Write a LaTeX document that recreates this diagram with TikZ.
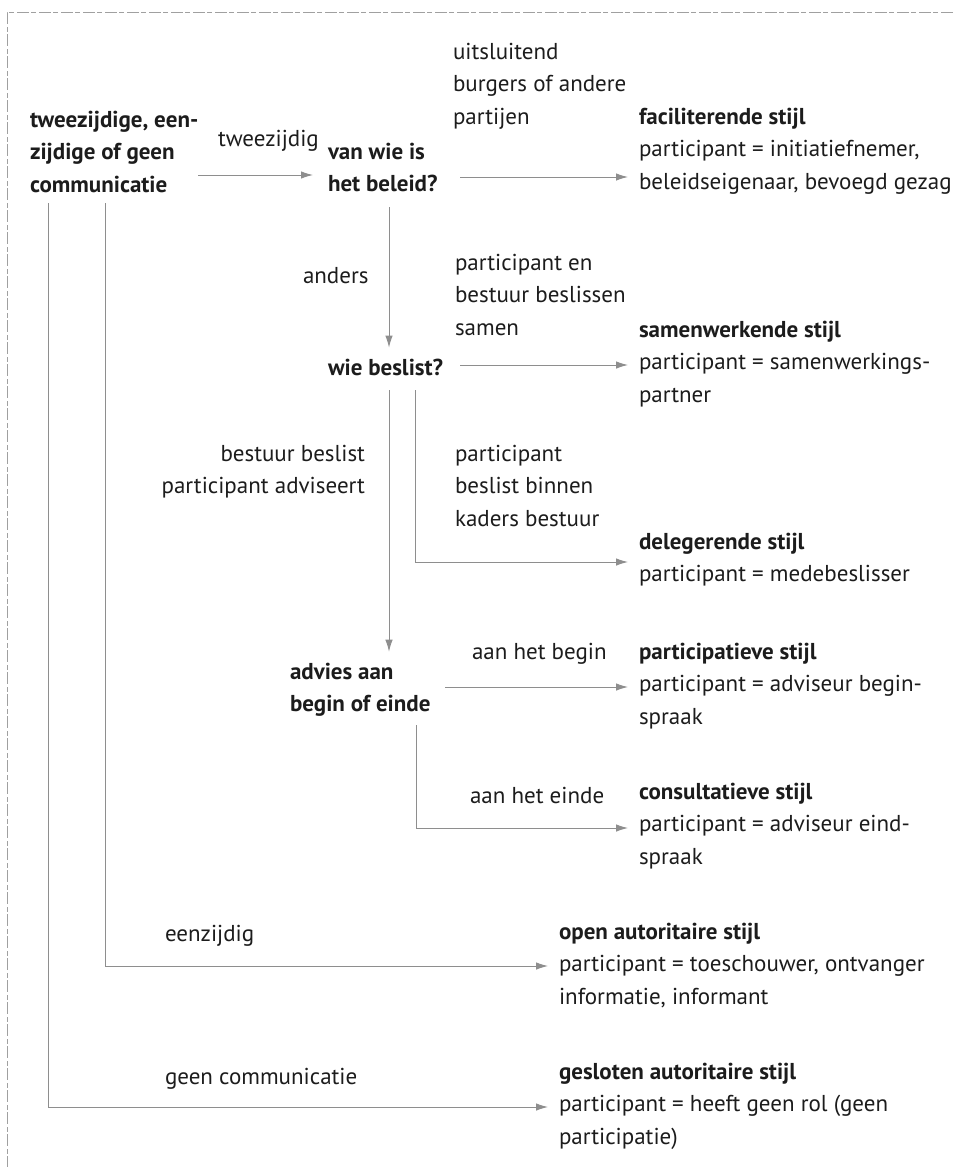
\documentclass[tikz,border=0pt]{standalone}
\usepackage{fontspec}
\setmainfont{PT Sans}
\usetikzlibrary{arrows.meta}
\definecolor{linegray}{HTML}{8E8E8E}
\definecolor{bordergray}{HTML}{A0A0A0}
\definecolor{ink}{HTML}{1C1C1C}
\tikzset{
  txt/.style={font=\fontsize{23}{32.5}\selectfont, text=ink, inner sep=0pt, outer sep=0pt, align=left, anchor=base west},
  btxt/.style={txt, font=\fontsize{23}{32.5}\selectfont\bfseries},
  arr/.style={draw=linegray, line width=0.9pt, -{Latex[length=12pt,width=7.5pt]}, shorten >=11pt},
  frame/.style={draw=bordergray, line width=0.8pt, dash pattern=on 12pt off 3pt on 5pt off 2pt},
}
\begin{document}
\begin{tikzpicture}[x=1pt,y=-1pt]
\useasboundingbox (0,0) rectangle (953,1167);
\draw[frame] (953,12) -- (7,12) -- (7,1167);

% nodes (anchored on the baseline of their last line)
\node[btxt] (src) at (30,192) {tweezijdige, een-\\zijdige of geen\\communicatie};
\node[txt]  (l1)  at (218,146) {tweezijdig};
\node[btxt] (q1)  at (328,191.5) {van wie is\\het beleid?};
\node[txt]  (l2)  at (453,124) {uitsluitend\\burgers of andere\\partijen};
\node[txt]  (fac) at (639,189) {\textbf{faciliterende stijl}\\participant = initiatiefnemer,\\beleidseigenaar, bevoegd gezag};
\node[txt]  (l3)  at (303,283) {anders};
\node[txt]  (l4)  at (455,335) {participant en\\bestuur beslissen\\samen};
\node[txt]  (sam) at (639,402) {\textbf{samenwerkende stijl}\\participant = samenwerkings-\\partner};
\node[btxt] (q2)  at (328,375) {wie beslist?};
\node[txt, align=right, anchor=base east] (l5) at (365,493.5) {bestuur beslist\\participant adviseert};
\node[txt]  (l6)  at (455,526) {participant\\beslist binnen\\kaders bestuur};
\node[txt]  (del) at (639,581.5) {\textbf{delegerende stijl}\\participant = medebeslisser};
\node[btxt] (q3)  at (290,711.5) {advies aan\\begin of einde};
\node[txt]  (l7)  at (472,659) {aan het begin};
\node[txt]  (par) at (639,724) {\textbf{participatieve stijl}\\participant = adviseur begin-\\spraak};
\node[txt]  (l8)  at (470,803) {aan het einde};
\node[txt]  (con) at (639,864) {\textbf{consultatieve stijl}\\participant = adviseur eind-\\spraak};
\node[txt]  (l9)  at (165,941) {eenzijdig};
\node[txt]  (opn) at (559,1004) {\textbf{open autoritaire stijl}\\participant = toeschouwer, ontvanger\\informatie, informant};
\node[txt]  (l10) at (165,1084) {geen communicatie};
\node[txt]  (ges) at (559,1144) {\textbf{gesloten autoritaire stijl}\\participant = heeft geen rol (geen\\participatie)};

% connector start / bend points
\coordinate (a1) at (198,175);
\coordinate (a2) at (460,177);
\coordinate (v1) at (389,207);
\coordinate (a3) at (460,365);
\coordinate (v2) at (389,390);
\coordinate (v3) at (415,390);
\coordinate (v3b) at (415,562);
\coordinate (a4) at (445,687);
\coordinate (v4) at (416,725);
\coordinate (v4b) at (416,828);
\coordinate (v5) at (105,203);
\coordinate (v5b) at (105,966);
\coordinate (v6) at (48,203);
\coordinate (v6b) at (48,1107);

\draw[arr, shorten >=15pt] (a1) -- (a1 -| q1.west);
\draw[arr] (a2) -- (a2 -| fac.west);
\draw[arr] (v1) -- (v1 |- q2.north);
\draw[arr] (a3) -- (a3 -| sam.west);
\draw[arr] (v2) -- (v2 |- q3.north);
\draw[arr] (v3) -- (v3b) -- (v3b -| del.west);
\draw[arr] (a4) -- (a4 -| par.west);
\draw[arr] (v4) -- (v4b) -- (v4b -| con.west);
\draw[arr] (v5) -- (v5b) -- (v5b -| opn.west);
\draw[arr] (v6) -- (v6b) -- (v6b -| ges.west);
\end{tikzpicture}
\end{document}
